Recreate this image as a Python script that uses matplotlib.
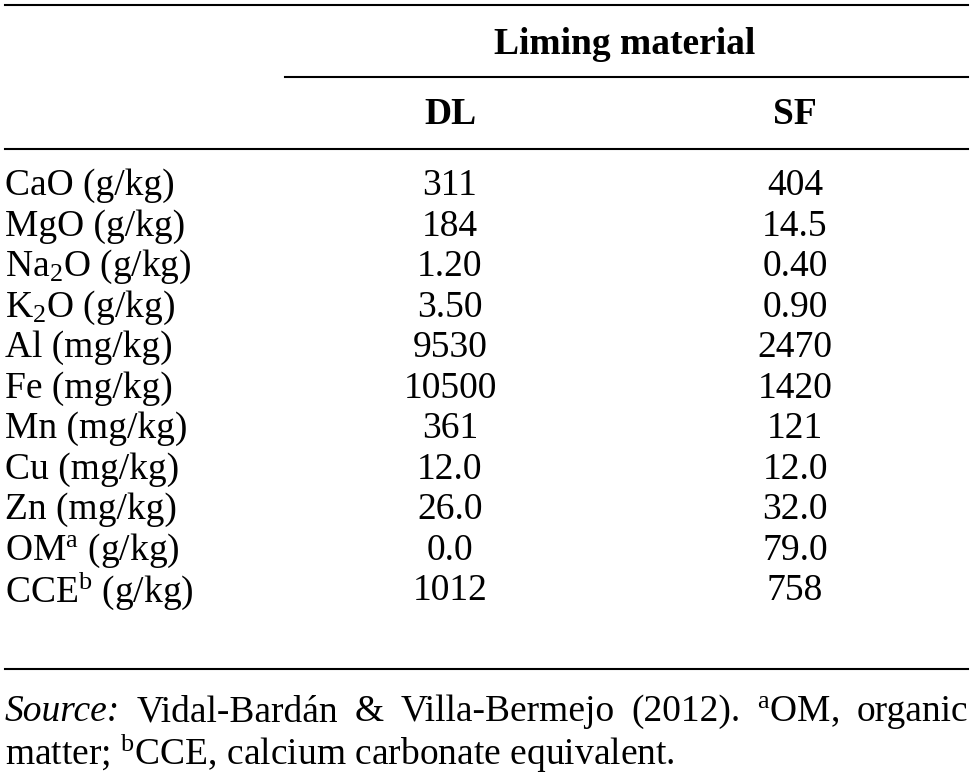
import matplotlib
matplotlib.use("Agg")
import matplotlib.pyplot as plt

plt.rcParams['font.family'] = ['Liberation Serif', 'DejaVu Serif']
plt.rcParams['mathtext.fontset'] = 'custom'
plt.rcParams['mathtext.rm'] = 'Liberation Serif'
plt.rcParams['mathtext.it'] = 'Liberation Serif:italic'
plt.rcParams['mathtext.bf'] = 'Liberation Serif:bold'

header = "Liming material"
columns = ["DL", "SF"]
rows = ["CaO (g/kg)", "MgO (g/kg)", "Na$_2$O (g/kg)", "K$_2$O (g/kg)", "Al (mg/kg)",
        "Fe (mg/kg)", "Mn (mg/kg)", "Cu (mg/kg)", "Zn (mg/kg)",
        "OM$^{\\mathrm{a}}$ (g/kg)", "CCE$^{\\mathrm{b}}$ (g/kg)"]
dl = ["311", "184", "1.20", "3.50", "9530", "10500", "361", "12.0", "26.0", "0.0", "1012"]
sf = ["404", "14.5", "0.40", "0.90", "2470", "1420", "121", "12.0", "32.0", "79.0", "758"]

fig = plt.figure(figsize=(9.73, 7.82), dpi=100)
ax = fig.add_axes([0, 0, 1, 1])
ax.set_xlim(0, 973); ax.set_ylim(782, 0); ax.axis('off')

fs = 27
ax.plot([5, 968], [5, 5], color='black', lw=1.5)
ax.text(625, 45, header, ha='center', va='center', fontsize=fs, fontweight='bold')
ax.plot([285, 968], [77, 77], color='black', lw=1.5)
cx = [450, 795]
for x, c in zip(cx, columns):
    ax.text(x, 115, c, ha='center', va='center', fontsize=fs, fontweight='bold')
ax.plot([5, 968], [149, 149], color='black', lw=1.5)
y0, dy = 186, 40.5
for i, (r, a, b) in enumerate(zip(rows, dl, sf)):
    y = y0 + i * dy
    ax.text(5, y, r, ha='left', va='center', fontsize=fs)
    ax.text(cx[0], y, a, ha='center', va='center', fontsize=fs)
    ax.text(cx[1], y, b, ha='center', va='center', fontsize=fs)
ax.plot([5, 968], [669, 669], color='black', lw=1.5)

# justified first footnote line
words = [("Source:", 'italic'), ("Vidal-Bardán", 'normal'), ("&", 'normal'),
         ("Villa-Bermejo", 'normal'), ("(2012).", 'normal'),
         ("$^{\\mathrm{a}}$OM,", 'normal'), ("organic", 'normal')]
r = fig.canvas.get_renderer()
arts, widths = [], []
for w, st in words:
    t = ax.text(0, 712, w, ha='left', va='center', fontsize=fs, fontstyle=st)
    bb = t.get_window_extent(r)
    arts.append(t); widths.append(bb.width)
gap = (963 - sum(widths)) / (len(words) - 1)
x = 5
for t, wd in zip(arts, widths):
    t.set_x(x); x += wd + gap
ax.text(5, 753, "matter; $^{\\mathrm{b}}$CCE, calcium carbonate equivalent.",
        ha='left', va='center', fontsize=fs)
fig.savefig("out.png", dpi=100)
